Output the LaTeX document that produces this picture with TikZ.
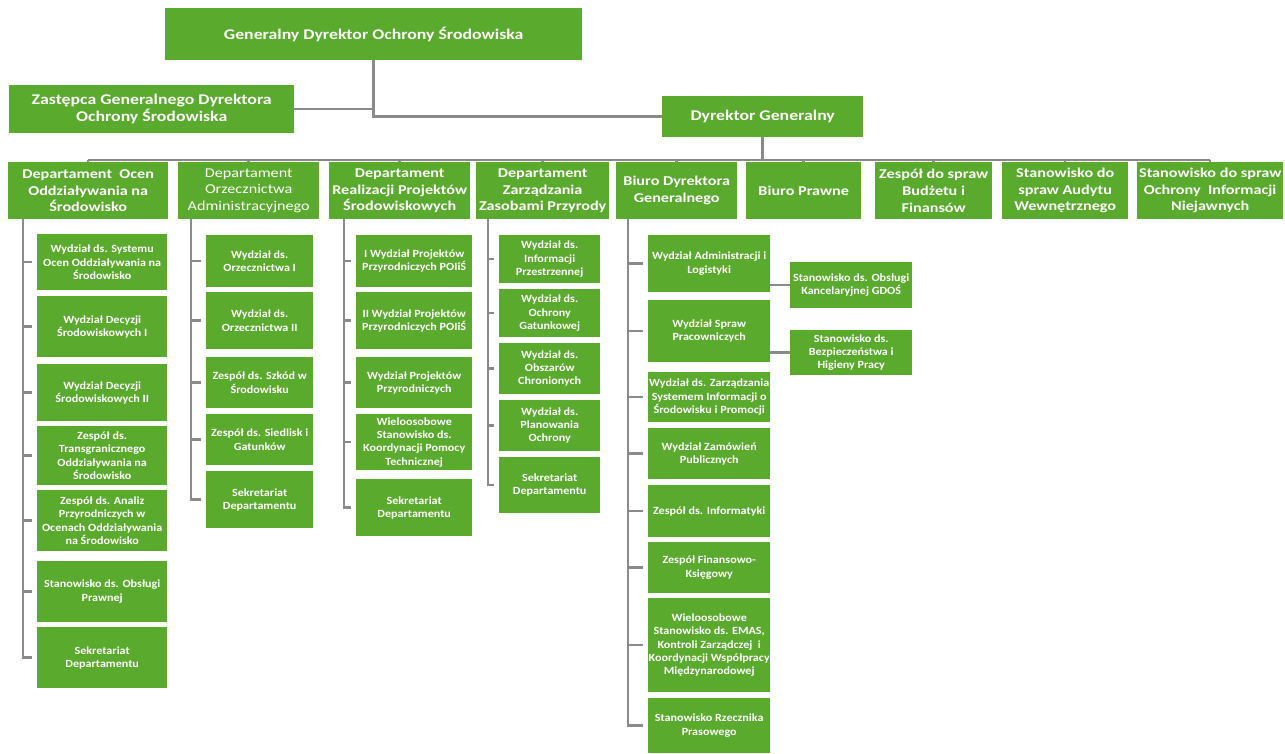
\documentclass[tikz,border=0pt]{standalone}
\usepackage{fontspec}
\setmainfont{Carlito}[FakeStretch=1.2]
\newfontfamily\unitfont{Carlito}[FakeStretch=1.1]
\usepackage{tikz}
\usetikzlibrary{positioning}
\definecolor{gdosgreen}{HTML}{5AAA2D}
\definecolor{linegray}{HTML}{8A8A8A}

\begin{document}
\begin{tikzpicture}[
    x=1pt, y=-1pt, % wspolrzedne w pikselach, os y w dol
    unit/.style={
        fill=gdosgreen,
        text=white,
        anchor=north west,
        align=center,
        inner sep=0pt,
        font=\unitfont\fontsize{11}{13.3}\selectfont\bfseries
    },
    dept/.style={unit, font=\fontsize{13.5}{16.7}\selectfont\bfseries},
    head/.style={unit, font=\fontsize{14.8}{16.7}\selectfont\bfseries},
    conn/.style={draw=linegray, line width=2.5pt}
]
\fill[white] (0,0) rectangle (1285,754);
\useasboundingbox (0,0) rectangle (1285,754);

% --- Kierownictwo ---
\node[head, minimum width=417, minimum height=52] (GD) at (165,8) {Generalny Dyrektor Ochrony Środowiska};
\node[head, minimum width=285, minimum height=48] (ZGD) at (9,85) {Zastępca Generalnego Dyrektora\\Ochrony Środowiska};
\node[head, minimum width=201, minimum height=41] (DG) at (662,96) {Dyrektor Generalny};

% --- Departamenty i biura ---
\node[dept, minimum width=160, minimum height=57] (D1) at (8,162) {Departament\ \ Ocen\\Oddziaływania na\\Środowisko};
\node[dept, minimum width=141, minimum height=57, font=\fontsize{13.5}{16.7}\selectfont] (D2) at (178,162) {Departament\\Orzecznictwa\\Administracyjnego};
\node[dept, minimum width=141, minimum height=57] (D3) at (329,162) {Departament\\Realizacji Projektów\\Środowiskowych};
\node[dept, minimum width=133, minimum height=57] (D4) at (476,162) {Departament\\Zarządzania\\Zasobami Przyrody};
\node[dept, minimum width=121, minimum height=57] (D5) at (616,162) {Biuro Dyrektora\\Generalnego};
\node[dept, minimum width=115, minimum height=57] (D6) at (746,162) {Biuro Prawne};
\node[dept, minimum width=117, minimum height=57] (D7) at (875,162) {Zespół do spraw\\Budżetu i\\Finansów};
\node[dept, minimum width=126, minimum height=57] (D8) at (1002,162) {Stanowisko do\\spraw Audytu\\Wewnętrznego};
\node[dept, minimum width=146, minimum height=57] (D9) at (1137,162) {Stanowisko do spraw\\Ochrony\ \ Informacji\\Niejawnych};

% --- Departament Ocen Oddzialywania na Srodowisko ---
\node[unit, minimum width=130, minimum height=56] (A1) at (37,234) {Wydział ds. Systemu\\Ocen Oddziaływania na\\Środowisko};
\node[unit, minimum width=130, minimum height=61] (A2) at (37,296) {Wydział Decyzji\\Środowiskowych I};
\node[unit, minimum width=130, minimum height=57] (A3) at (37,364) {Wydział Decyzji\\Środowiskowych II};
\node[unit, minimum width=130, minimum height=59] (A4) at (37,426) {Zespół ds.\\Transgranicznego\\Oddziaływania na\\Środowisko};
\node[unit, minimum width=130, minimum height=61] (A5) at (37,490) {Zespół ds. Analiz\\Przyrodniczych w\\Ocenach Oddziaływania\\na Środowisko};
\node[unit, minimum width=130, minimum height=61] (A6) at (37,561) {Stanowisko ds. Obsługi\\Prawnej};
\node[unit, minimum width=130, minimum height=61] (A7) at (37,627) {Sekretariat\\Departamentu};

% --- Departament Orzecznictwa Administracyjnego ---
\node[unit, minimum width=107, minimum height=52] (B1) at (206,235) {Wydział ds.\\Orzecznictwa I};
\node[unit, minimum width=107, minimum height=57] (B2) at (206,292) {Wydział ds.\\Orzecznictwa II};
\node[unit, minimum width=107, minimum height=51] (B3) at (206,357) {Zespół ds. Szkód w\\Środowisku};
\node[unit, minimum width=107, minimum height=51] (B4) at (206,414) {Zespół ds. Siedlisk i\\Gatunków};
\node[unit, minimum width=107, minimum height=57] (B5) at (206,471) {Sekretariat\\Departamentu};

% --- Departament Realizacji Projektow Srodowiskowych ---
\node[unit, minimum width=116, minimum height=52] (C1) at (356,235) {I Wydział Projektów\\Przyrodniczych POIiŚ};
\node[unit, minimum width=116, minimum height=57] (C2) at (356,292) {II Wydział Projektów\\Przyrodniczych POIiŚ};
\node[unit, minimum width=116, minimum height=51] (C3) at (356,357) {Wydział Projektów\\Przyrodniczych};
\node[unit, minimum width=116, minimum height=56] (C4) at (356,414) {Wieloosobowe\\Stanowisko ds.\\Koordynacji Pomocy\\Technicznej};
\node[unit, minimum width=116, minimum height=57] (C5) at (356,479) {Sekretariat\\Departamentu};

% --- Departament Zarzadzania Zasobami Przyrody ---
\node[unit, minimum width=101, minimum height=48] (E1) at (499,235) {Wydział ds.\\Informacji\\Przestrzennej};
\node[unit, minimum width=101, minimum height=48] (E2) at (499,289) {Wydział ds.\\Ochrony\\Gatunkowej};
\node[unit, minimum width=101, minimum height=51] (E3) at (499,343) {Wydział ds.\\Obszarów\\Chronionych};
\node[unit, minimum width=101, minimum height=51] (E4) at (499,400) {Wydział ds.\\Planowania\\Ochrony};
\node[unit, minimum width=101, minimum height=56] (E5) at (499,457) {Sekretariat\\Departamentu};

% --- Biuro Dyrektora Generalnego ---
\node[unit, minimum width=122, minimum height=57] (F1) at (648,235) {Wydział Administracji i\\Logistyki};
\node[unit, minimum width=122, minimum height=62] (F2) at (648,300) {Wydział Spraw\\Pracowniczych};
\node[unit, minimum width=122, minimum height=50] (F3) at (648,372) {Wydział ds. Zarządzania\\Systemem Informacji o\\Środowisku i Promocji};
\node[unit, minimum width=122, minimum height=51] (F4) at (648,428) {Wydział Zamówień\\Publicznych};
\node[unit, minimum width=122, minimum height=52] (F5) at (648,485) {Zespół ds. Informatyki};
\node[unit, minimum width=122, minimum height=51] (F6) at (648,542) {Zespół Finansowo-\\Księgowy};
\node[unit, minimum width=122, minimum height=94] (F7) at (648,598) {Wieloosobowe\\Stanowisko ds. EMAS,\\Kontroli Zarządczej\ \ i\\Koordynacji Współpracy\\Międzynarodowej};
\node[unit, minimum width=122, minimum height=55] (F8) at (648,698) {Stanowisko Rzecznika\\Prasowego};
\node[unit, minimum width=122, minimum height=46] (G1) at (790,262) {Stanowisko ds. Obsługi\\Kancelaryjnej GDOŚ};
\node[unit, minimum width=122, minimum height=45] (G2) at (790,330) {Stanowisko ds.\\Bezpieczeństwa i\\Higieny Pracy};

% --- Polaczenia ---
\coordinate (bus) at (0,160);
\draw[conn] (GD.south) |- (DG.west);
\draw[conn] (ZGD.east) -- (ZGD.east -| GD.south);
\draw[conn] (DG.south) -- (DG.south |- bus);
\draw[conn] (D1.north |- bus) -- (D9.north |- bus);
\foreach \i in {1,...,9}
    \draw[conn] (D\i.north) -- (D\i.north |- bus);

\foreach \i in {1,...,7}
    \draw[conn] ([xshift=15pt]D1.south west) |- ([xshift=-5pt]A\i.west);
\foreach \i in {1,...,5}
    \draw[conn] ([xshift=13pt]D2.south west) |- ([xshift=-5pt]B\i.west);
\foreach \i in {1,...,5}
    \draw[conn] ([xshift=15pt]D3.south west) |- ([xshift=-5pt]C\i.west);
\foreach \i in {1,...,5}
    \draw[conn] ([xshift=12pt]D4.south west) |- ([xshift=-5pt]E\i.west);
\foreach \i in {1,...,8}
    \draw[conn] ([xshift=12pt]D5.south west) |- ([xshift=-5pt]F\i.west);

\draw[conn] (G1.west -| F1.east) -- (G1.west);
\draw[conn] (G2.west -| F2.east) -- (G2.west);

\end{tikzpicture}
\end{document}
